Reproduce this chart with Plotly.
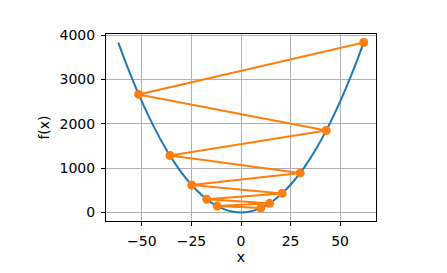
import plotly.graph_objects as go

# Curve f(x)
curve_x = [-61.9, -56, -50, -44, -38, -32, -26, -20, -14, -8, -4, 0,
           4, 8, 14, 20, 26, 32, 38, 44, 50, 56, 61.9]
curve_f = [3832, 3136, 2500, 1936, 1444, 1024, 676, 400, 196, 64, 16, 0,
           16, 64, 196, 400, 676, 1024, 1444, 1936, 2500, 3136, 3832]

# Trace points
trace_x = [10, -12, 14.4, -17.28, 20.74, -24.88, 29.86, -35.83, 43.0, -51.6, 61.9]
trace_f = [100, 144, 207, 299, 430, 619, 892, 1284, 1849, 2662, 3833]

x_ticks = [-50, -25, 0, 25, 50]
x_tick_text = ["\u221250", "\u221225", "0", "25", "50"]
y_ticks = [0, 1000, 2000, 3000, 4000]

fig = go.Figure()
fig.add_trace(go.Scatter(x=curve_x, y=curve_f, mode="lines",
                         line=dict(color="#1f77b4", width=2, shape="spline"),
                         showlegend=False))
fig.add_trace(go.Scatter(x=trace_x, y=trace_f, mode="lines+markers",
                         line=dict(color="#ff7f0e", width=2),
                         marker=dict(color="#ff7f0e", size=9),
                         showlegend=False))

FONT = "DejaVu Sans, Verdana, sans-serif"
axis_common = dict(showline=True, linecolor="black", linewidth=1, mirror=True,
                   showgrid=True, gridcolor="#b0b0b0", gridwidth=1,
                   ticks="outside", ticklen=4, tickcolor="black", zeroline=False,
                   ticklabelstandoff=3, automargin=False,
                   tickfont=dict(family=FONT, size=14, color="black"))

fig.update_layout(
    width=447, height=273,
    margin=dict(l=106, r=71, t=34, b=52),
    plot_bgcolor="white", paper_bgcolor="white",
    font=dict(family=FONT, size=14, color="black"),
    xaxis=dict(range=[-68.1, 68.1], tickvals=x_ticks, ticktext=x_tick_text,
               title=dict(text="x", standoff=4, font=dict(family=FONT, size=14)),
               **axis_common),
    yaxis=dict(range=[-192, 4025], tickvals=y_ticks,
               title=dict(text="f(x)", standoff=6, font=dict(family=FONT, size=14)),
               **axis_common),
)

fig.write_html("out.html")
